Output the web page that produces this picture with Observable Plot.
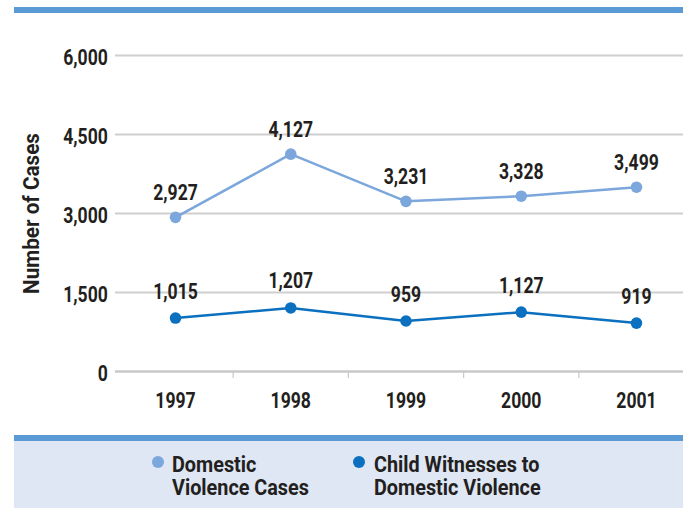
<!DOCTYPE html>
<html>
<head>
<meta charset="utf-8">
<script src="https://cdn.jsdelivr.net/npm/d3@7"></script>
<script src="https://cdn.jsdelivr.net/npm/@observablehq/plot@0.6"></script>
<style>
  html, body { margin: 0; padding: 0; background: #fff; }
  body { position: relative; width: 683px; height: 508px; overflow: hidden;
         font-family: Roboto, "Liberation Sans", sans-serif; }
  #topbar { position: absolute; left: 14px; top: 7px; width: 669px; height: 6px; background: #5b9bd5; }
  #chart { position: absolute; left: 0; top: 0; }
  #legend { position: absolute; left: 14px; top: 435px; width: 669px; height: 73px;
            background: #dfe7f4; border-top: 6px solid #5b9bd5; box-sizing: border-box; }
  .item { position: absolute; top: 12px; font-size: 22px; line-height: 23px; color: #231f20;
          font-weight: bold; white-space: nowrap; }
  .txt { display: inline-block; transform: scaleX(0.9); transform-origin: left top; }
  .dot { position: absolute; width: 12px; height: 12px; border-radius: 50%; top: 3px; }
</style>
</head>
<body>
<div id="chart"></div>
<div id="topbar"></div>
<div id="legend"></div>
<script>
const years = [1997, 1998, 1999, 2000, 2001];
const domesticCases = [2927, 4127, 3231, 3328, 3499];
const childWitnesses = [1015, 1207, 959, 1127, 919];
const seriesNames = ["Domestic Violence Cases", "Child Witnesses to Domestic Violence"];
const seriesLegendLines = [["Domestic", "Violence Cases"], ["Child Witnesses to", "Domestic Violence"]];
const seriesColors = ["#7ba7dc", "#0a70bf"];
const yTicks = [0, 1500, 3000, 4500, 6000];
const yLabel = "Number of Cases";

const data = [];
years.forEach((y, i) => {
  data.push({year: y, value: domesticCases[i], series: seriesNames[0]});
  data.push({year: y, value: childWitnesses[i], series: seriesNames[1]});
});
const separators = years.slice(0, -1).map(y => y + 0.5);
const fmt = d3.format(",");

const plot = Plot.plot({
  width: 683,
  height: 433,
  marginTop: 55,
  marginBottom: 62,
  marginLeft: 115,
  marginRight: 0,
  style: {fontFamily: "Roboto, sans-serif", fontSize: "22px", fontWeight: "bold", color: "#231f20", overflow: "visible"},
  x: {domain: [years[0] - 0.5, years[years.length - 1] + 0.5], range: [117.4, 693.6], axis: null},
  y: {domain: [0, 6000], axis: null},
  color: {domain: seriesNames, range: seriesColors},
  marks: [
    Plot.ruleY(yTicks.slice(1), {stroke: "#cfcfcf", strokeWidth: 2}),
    Plot.ruleY([0], {stroke: "#c8c8c8", strokeWidth: 2.5}),
    Plot.ruleX(separators, {y1: 0, y2: 0, stroke: "#c8c8c8", strokeWidth: 1.2, insetBottom: -7}),
    Plot.text(yTicks, {x: years[0] - 0.5, y: d => d, text: d => fmt(d), textAnchor: "end", dx: -10, dy: 2,
      fontSize: 22, fill: "#231f20"}),
    Plot.text(years, {x: d => d, y: 0, text: d => String(d), dy: 29, fontSize: 22, fill: "#231f20"}),
    Plot.text([yLabel], {frameAnchor: "left", textAnchor: "middle", rotate: -90, dx: -84, fontSize: 22, fill: "#231f20"}),
    Plot.line(data, {x: "year", y: "value", stroke: "series", strokeWidth: 2.5}),
    Plot.dot(data, {x: "year", y: "value", fill: "series", r: 5.8}),
    Plot.text(data.filter(d => d.series === seriesNames[0]), {x: "year", y: "value", text: d => fmt(d.value), dy: -24, fontSize: 22, fill: "#231f20"}),
    Plot.text(data.filter(d => d.series === seriesNames[1]), {x: "year", y: "value", text: d => fmt(d.value), dy: -26.5, fontSize: 22, fill: "#231f20"})
  ]
});
document.getElementById("chart").appendChild(plot);

// condense text horizontally (narrow typeface look) using textLength
const condense = [0.8, 0.8, 0.94, 0.8, 0.8];
plot.querySelectorAll('g[aria-label="text"]').forEach((g, gi) => {
  const s = condense[gi] ?? 0.8;
  g.querySelectorAll("text").forEach(t => {
    const len = t.getComputedTextLength();
    if (len > 0) {
      t.setAttribute("textLength", (len * s).toFixed(2));
      t.setAttribute("lengthAdjust", "spacingAndGlyphs");
    }
  });
});

const legend = document.getElementById("legend");
const lefts = [158, 359.7];
const dotLefts = [-19.7, -21.2];
seriesNames.forEach((name, i) => {
  const item = document.createElement("div");
  item.className = "item";
  item.style.left = lefts[i] + "px";
  const dot = document.createElement("span");
  dot.className = "dot";
  dot.style.left = dotLefts[i] + "px";
  dot.style.background = seriesColors[i];
  item.appendChild(dot);
  const txt = document.createElement("span");
  txt.className = "txt";
  txt.appendChild(document.createTextNode(seriesLegendLines[i][0]));
  txt.appendChild(document.createElement("br"));
  txt.appendChild(document.createTextNode(seriesLegendLines[i][1]));
  item.appendChild(txt);
  legend.appendChild(item);
});
</script>
</body>
</html>
